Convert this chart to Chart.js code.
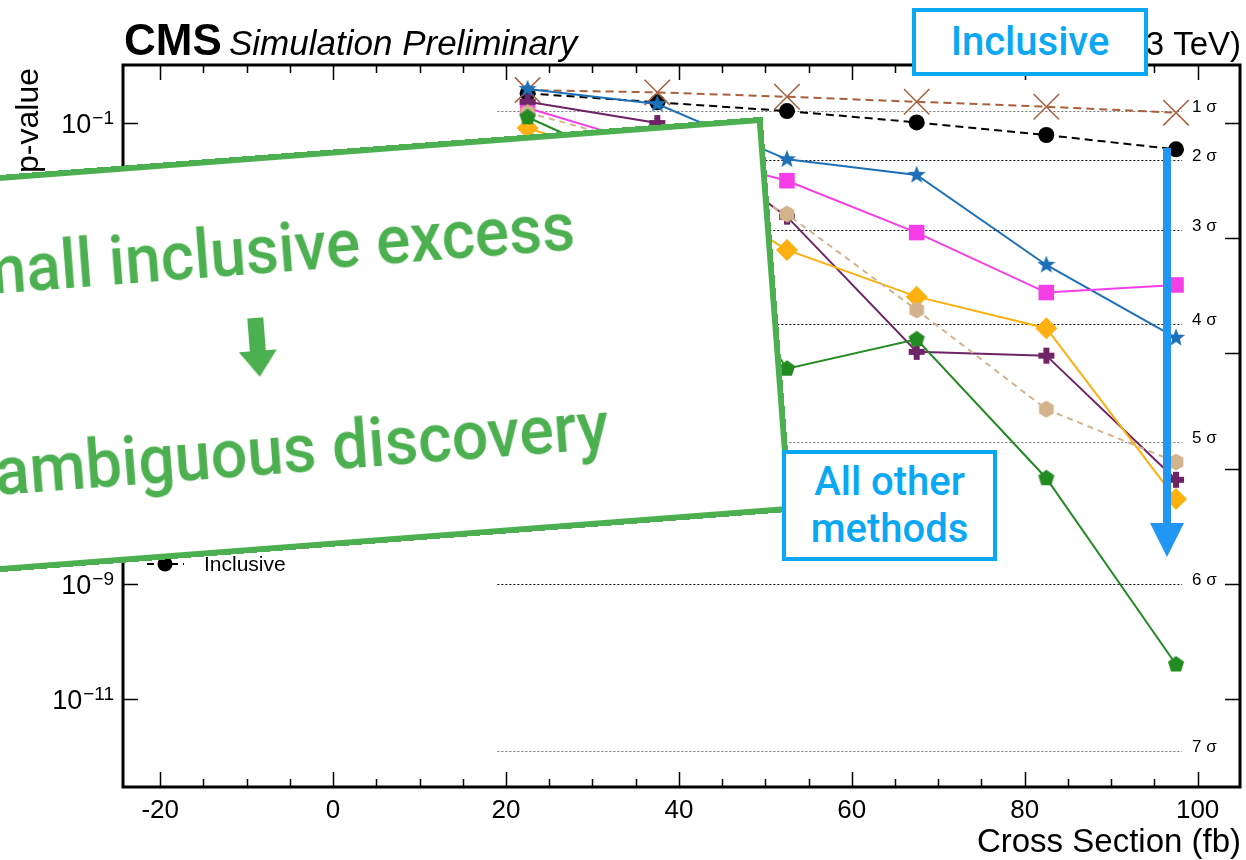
<!DOCTYPE html>
<html>
<head>
<meta charset="utf-8">
<script src="https://cdn.jsdelivr.net/npm/chart.js@4.4.0/dist/chart.umd.min.js"></script>
<style>
  html, body { margin: 0; padding: 0; background: #fff; }
  #wrap { position: relative; width: 1246px; height: 860px; overflow: hidden; }
  #plot { position: absolute; left: 0; top: 0; }
  .note { position: absolute; box-sizing: border-box; background: #fff; font-family: Roboto, sans-serif; font-weight: 500; }
  #greenBox { left: -241px; top: 155px; width: 1020px; height: 396px; border: 6px solid #4caf50; transform: rotate(-4.36deg); color: #4caf50; }
  #greenBox .gl { position: absolute; left: 0; right: 0; text-align: center; font-size: 68px; line-height: 68px; height: 68px; white-space: nowrap; }
  .bluebox { border: 4px solid #0aa8f2; color: #0aa8f2; text-align: center; }
  #overlay { position: absolute; left: 0; top: 0; pointer-events: none; }
</style>
</head>
<body>
<div id="wrap">
  <canvas id="plot" width="1246" height="860"></canvas>
  <div class="note" id="greenBox">
    <div class="gl" style="top:55px;transform:translateX(-8px) scaleX(0.94);">Small inclusive excess</div>
    <svg style="position:absolute;left:473px;top:156px;" width="40" height="60" viewBox="0 0 40 60">
      <polygon points="12,0 28,0 28,33 39,33 20,59 1,33 12,33" fill="#4caf50"/>
    </svg>
    <div class="gl" style="top:256px;transform:translateX(-14px) scaleX(0.95);">Unambiguous discovery</div>
  </div>
  <div class="note bluebox" style="left:912px;top:8px;width:236px;height:68px;font-size:40px;line-height:60px;">Inclusive</div>
  <div class="note bluebox" style="left:782px;top:450px;width:215px;height:111px;font-size:40px;line-height:47px;padding-top:4px;">All other<br>methods</div>
  <svg id="overlay" width="1246" height="860">
    <polygon points="1163,148 1171,148 1171,523 1184,523 1167,557 1150,523 1163,523" fill="#2196f3"/>
  </svg>
</div>
<script>
// x positions of the scan points (fb)
const xValues = [22.5, 37.5, 52.5, 67.5, 82.5, 97.5];

// p-values per method
const inclusive = [0.322, 0.225, 0.159, 0.101, 0.061, 0.0344];
const brownVals = [0.367, 0.335, 0.281, 0.230, 0.189, 0.149];
const blueVals = [0.382, 0.21, 0.0231, 0.01236, 3.4e-4, 1.85e-5];
const magentaVals = [0.179, 0.038, 9.84e-3, 1.24e-3, 1.13e-4, 1.53e-4];
const purpleVals = [0.230, 0.0984, 2.34e-3, 1.06e-5, 9.1e-6, 6.4e-8];
const orangeVals = [0.0806, 0.015, 6.2e-4, 9.6e-5, 2.72e-5, 2.96e-8];
const greenVals = [0.124, 0.012, 5.4e-6, 1.75e-5, 6.8e-8, 4.0e-11];
const tanVals = [0.15, 0.036, 2.6e-3, 5.65e-5, 1.07e-6, 1.3e-7];

// significance reference lines
const sigmaLevels = [0.1587, 0.02275, 1.35e-3, 3.17e-5, 2.87e-7, 9.87e-10, 1.28e-12];
const sigmaLabels = ['1 σ', '2 σ', '3 σ', '4 σ', '5 σ', '6 σ', '7 σ'];
const sigmaFrom = 19;
const sigmaTo = 98.2;

// axis ticks
const xTicks = [-20, 0, 20, 40, 60, 80, 100];
const xMinorStep = 5;
const yTickExponents = [-1, -3, -5, -7, -9, -11];

const FONT = '"Liberation Sans", Arial, sans-serif';

function marker(size, draw) {
    const c = document.createElement('canvas');
    c.width = size; c.height = size;
    const g = c.getContext('2d');
    draw(g, size / 2);
    return c;
}
function starShape(g, c, n, rOut, rIn, color) {
    g.beginPath();
    for (let i = 0; i < 2 * n; i++) {
        const r = i % 2 === 0 ? rOut : rIn;
        const a = -Math.PI / 2 + i * Math.PI / n;
        const px = c + r * Math.cos(a), py = c + r * Math.sin(a);
        i === 0 ? g.moveTo(px, py) : g.lineTo(px, py);
    }
    g.closePath();
    g.fillStyle = color;
    g.fill();
}
function polyShape(g, c, n, r, color, rot) {
    g.beginPath();
    for (let i = 0; i < n; i++) {
        const a = rot + i * 2 * Math.PI / n;
        const px = c + r * Math.cos(a), py = c + r * Math.sin(a);
        i === 0 ? g.moveTo(px, py) : g.lineTo(px, py);
    }
    g.closePath();
    g.fillStyle = color;
    g.fill();
}

const starMarker = marker(22, (g, c) => starShape(g, c, 5, 9.5, 4, '#1c70b8'));
const pentaMarker = marker(20, (g, c) => polyShape(g, c, 5, 8.5, '#228b22', -Math.PI / 2));
const hexMarker = marker(20, (g, c) => polyShape(g, c, 6, 8.5, '#d2b48c', -Math.PI / 2));
const plusMarker = marker(20, (g, c) => {
    g.fillStyle = '#6e2466';
    g.fillRect(c - 3, c - 8, 6, 16);
    g.fillRect(c - 8, c - 3, 16, 6);
});

function pts(vals) {
    return xValues.map((x, i) => ({ x: x, y: vals[i] }));
}

const rootFrame = {
    id: 'rootFrame',
    beforeDatasetsDraw(chart) {
        const { ctx, scales: { x, y } } = chart;
        ctx.save();
        ctx.lineWidth = 1;
        ctx.setLineDash([2, 2]);
        ctx.font = '17px ' + FONT;
        ctx.textBaseline = 'middle';
        sigmaLevels.forEach((p, i) => {
            const py = Math.round(y.getPixelForValue(p)) + 0.5;
            ctx.strokeStyle = (i === 0 || i === 4 || i === 6) ? '#777' : '#111';
            ctx.beginPath();
            ctx.moveTo(x.getPixelForValue(sigmaFrom), py);
            ctx.lineTo(x.getPixelForValue(sigmaTo), py);
            ctx.stroke();
            ctx.fillStyle = '#000';
            ctx.fillText(sigmaLabels[i], x.getPixelForValue(sigmaTo) + 10, py - 4);
        });
        ctx.restore();
    },
    afterDraw(chart) {
        const { ctx, chartArea: a, scales: { x, y } } = chart;
        ctx.save();
        ctx.strokeStyle = '#000';
        ctx.fillStyle = '#000';
        // x ticks, bottom and top, inward
        ctx.lineWidth = 1.5;
        for (let v = -20; v <= 100; v += xMinorStep) {
            const px = Math.round(x.getPixelForValue(v)) + 0.5;
            const len = v % 20 === 0 ? 15 : 8;
            ctx.beginPath();
            ctx.moveTo(px, a.bottom); ctx.lineTo(px, a.bottom - len);
            ctx.moveTo(px, a.top); ctx.lineTo(px, a.top + len);
            ctx.stroke();
        }
        // y ticks, left and right
        yTickExponents.forEach(e => {
            const py = Math.round(y.getPixelForValue(Math.pow(10, e))) + 0.5;
            ctx.beginPath();
            ctx.moveTo(a.left, py); ctx.lineTo(a.left + 15, py);
            ctx.moveTo(a.right, py); ctx.lineTo(a.right - 15, py);
            ctx.stroke();
        });
        // frame
        ctx.lineWidth = 3;
        ctx.strokeRect(a.left, a.top, a.right - a.left, a.bottom - a.top);

        // x tick labels
        ctx.font = '26px ' + FONT;
        ctx.textAlign = 'center';
        ctx.textBaseline = 'alphabetic';
        xTicks.forEach(v => ctx.fillText(String(v), x.getPixelForValue(v), a.bottom + 31));

        // y tick labels 10^n
        yTickExponents.forEach(e => {
            const py = y.getPixelForValue(Math.pow(10, e));
            const sup = '−' + Math.abs(e);
            ctx.font = '19px ' + FONT;
            const supW = ctx.measureText(sup).width;
            ctx.textAlign = 'left';
            ctx.fillText(sup, 114 - supW, py + 1);
            ctx.font = '27px ' + FONT;
            const baseW = ctx.measureText('10').width;
            ctx.fillText('10', 114 - supW - baseW - 1, py + 10);
        });

        // axis titles
        ctx.font = '33px ' + FONT;
        ctx.textAlign = 'right';
        ctx.fillText('Cross Section (fb)', a.right + 1, 852);
        ctx.save();
        ctx.font = '32px ' + FONT;
        ctx.translate(38, a.top + 3);
        ctx.rotate(-Math.PI / 2);
        ctx.textAlign = 'right';
        ctx.fillText('p-value', 0, 0);
        ctx.restore();

        // header
        ctx.textAlign = 'left';
        ctx.font = 'bold 44px ' + FONT;
        ctx.fillText('CMS', 124, 55);
        ctx.font = 'italic 35px ' + FONT;
        ctx.fillText('Simulation Preliminary', 229, 55);
        ctx.font = '33px ' + FONT;
        ctx.textAlign = 'right';
        ctx.fillText('(13 TeV)', a.right + 1, 55);

        // legend entry that remains visible
        ctx.strokeStyle = '#000';
        ctx.lineWidth = 2;
        ctx.setLineDash([7, 5]);
        ctx.beginPath();
        ctx.moveTo(147, 564); ctx.lineTo(184, 564);
        ctx.stroke();
        ctx.setLineDash([]);
        ctx.beginPath();
        ctx.arc(165, 564, 7.5, 0, Math.PI * 2);
        ctx.fill();
        ctx.font = '21px ' + FONT;
        ctx.textAlign = 'left';
        ctx.textBaseline = 'middle';
        ctx.fillText('Inclusive', 204, 565);
        ctx.restore();
    }
};

new Chart(document.getElementById('plot'), {
    type: 'line',
    data: {
        datasets: [
            {
                label: 'Method 1', data: pts(greenVals), borderColor: '#228b22', borderWidth: 2,
                pointStyle: pentaMarker, pointRadius: 9
            },
            {
                label: 'Method 2', data: pts(tanVals), borderColor: '#d2b48c', borderWidth: 2, borderDash: [6, 5],
                pointStyle: hexMarker, pointRadius: 9
            },
            {
                label: 'Method 3', data: pts(orangeVals), borderColor: '#fdb00f', borderWidth: 2,
                pointStyle: 'rectRot', pointRadius: 11, pointBackgroundColor: '#fdb00f', pointBorderColor: '#fdb00f', pointBorderWidth: 0
            },
            {
                label: 'Method 4', data: pts(purpleVals), borderColor: '#6e2466', borderWidth: 2,
                pointStyle: plusMarker, pointRadius: 9
            },
            {
                label: 'Method 5', data: pts(magentaVals), borderColor: '#f53ee8', borderWidth: 2,
                pointStyle: 'rect', pointRadius: 11, pointBackgroundColor: '#f53ee8', pointBorderColor: '#f53ee8', pointBorderWidth: 0
            },
            {
                label: 'Method 6', data: pts(blueVals), borderColor: '#1c70b8', borderWidth: 2,
                pointStyle: starMarker, pointRadius: 10
            },
            {
                label: 'Method 7', data: pts(brownVals), borderColor: '#a9603d', borderWidth: 2, borderDash: [8, 5],
                pointStyle: 'crossRot', pointRadius: 18, pointBorderColor: '#a9603d', pointBorderWidth: 1.5
            },
            {
                label: 'Inclusive', data: pts(inclusive), borderColor: '#000', borderWidth: 2, borderDash: [8, 5],
                pointStyle: 'circle', pointRadius: 8, pointBackgroundColor: '#000', pointBorderColor: '#000', pointBorderWidth: 0
            }
        ]
    },
    options: {
        responsive: false,
        animation: false,
        devicePixelRatio: 1,
        layout: { autoPadding: false, padding: { left: 123, right: 6, top: 65, bottom: 73 } },
        elements: { line: { tension: 0 } },
        plugins: { legend: { display: false }, tooltip: { enabled: false } },
        scales: {
            x: { type: 'linear', min: -24.3, max: 104.9, display: false },
            y: { type: 'logarithmic', min: 3.05e-13, max: 1.0, display: false }
        }
    },
    plugins: [rootFrame]
});
</script>
</body>
</html>
